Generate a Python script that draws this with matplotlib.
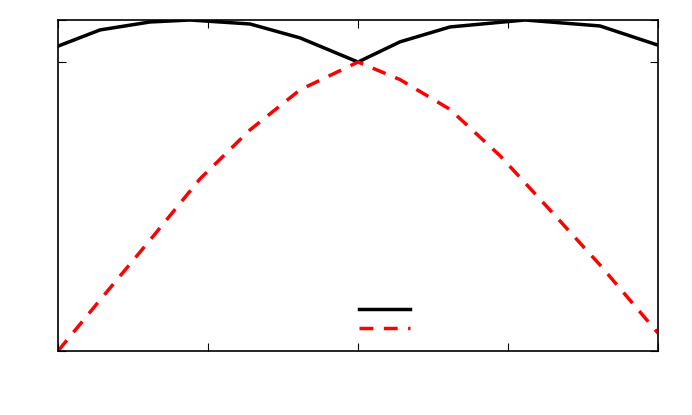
import matplotlib
matplotlib.use("Agg")
import matplotlib.pyplot as plt
from matplotlib.lines import Line2D

x_px = [58, 100, 150, 190, 250, 300, 358, 400, 450, 525, 600, 658]
black = [0.921, 0.97, 0.994, 1.0, 0.988, 0.946, 0.873, 0.934, 0.979, 1.0, 0.982, 0.924]
xr = [58, 100, 150, 200, 250, 300, 358, 400, 450, 500, 550, 600, 658]
red = [0.0, 0.154, 0.335, 0.52, 0.668, 0.789, 0.873, 0.82, 0.73, 0.59, 0.426, 0.26, 0.054]
xb = [(v - 58) / 600 * 2 for v in x_px]
xrr = [(v - 58) / 600 * 2 for v in xr]

fig = plt.figure(figsize=(6.92, 4.15), dpi=100)
ax = fig.add_axes([58/692, 64/415, 600/692, 331/415])
ax.plot(xb, black, color="black", lw=2.5)
ax.plot(xrr, red, color="red", lw=2.5, dashes=(4, 3))
ax.set_xlim(0, 2)
ax.set_ylim(0, 1)
ax.set_xticks([0, 0.5, 1, 1.5, 2])
ax.set_yticks([0, 0.873, 1])
ax.tick_params(direction="in", top=True, right=True, length=6, labelbottom=False, labelleft=False)
for s in ax.spines.values():
    s.set_linewidth(1.2)
h = [Line2D([], [], color="black", lw=2.5), Line2D([], [], color="red", lw=2.5, dashes=(4, 3))]
ax.legend(h, ["", ""], loc="upper left", bbox_to_anchor=(0.49, 0.165), frameon=False,
          handlelength=3.7, labelspacing=0.3, borderpad=0, handletextpad=0)
fig.savefig("out.png", dpi=100)
